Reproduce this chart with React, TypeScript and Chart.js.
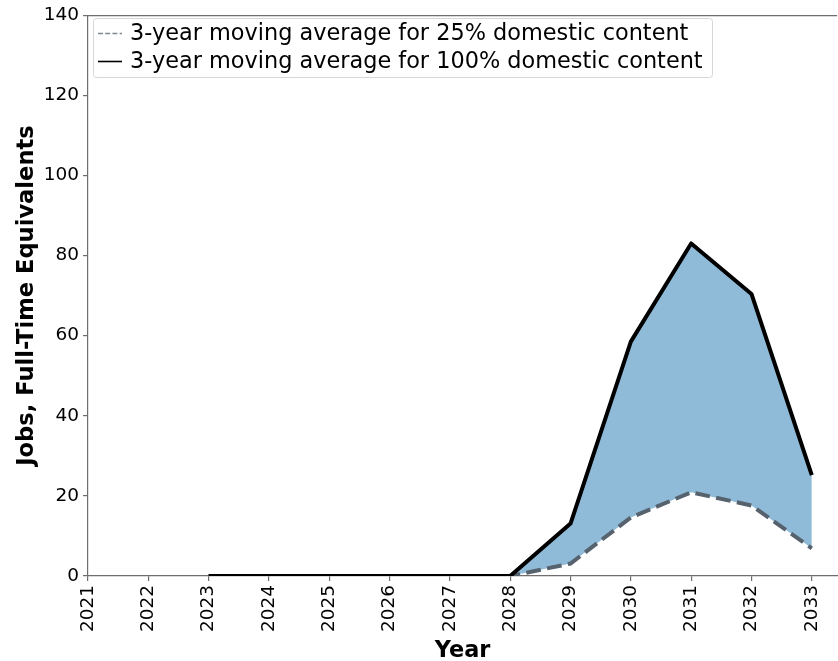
import React, { useEffect, useRef } from "react";
import { Chart, registerables } from "chart.js";

Chart.register(...registerables);

const yearTicks = [2021, 2022, 2023, 2024, 2025, 2026, 2027, 2028, 2029, 2030, 2031, 2032, 2033];
const lineYears = [2023, 2024, 2025, 2026, 2027, 2028, 2029, 2030, 2031, 2032, 2033];
const domestic100 = [0, 0, 0, 0, 0, 0, 13.1, 58.5, 83.0, 70.4, 25.2];
const domestic25 = [0, 0, 0, 0, 0, 0, 3.1, 14.6, 20.9, 17.6, 6.9];
const yTicks = [0, 20, 40, 60, 80, 100, 120, 140];
const label25 = "3-year moving average for 25% domestic content";
const label100 = "3-year moving average for 100% domestic content";
const xTitle = "Year";
const yTitle = "Jobs, Full-Time Equivalents";

const FONT = "'DejaVu Sans', sans-serif";
const FILL = "#8fbbd9";
const DASH_COLOR = "#56626d";
const AXIS_COLOR = "#6e6e6e";

const decorPlugin = {
  id: "decor",
  afterDraw(chart: any) {
    const { ctx, chartArea } = chart;
    ctx.save();
    // top spine
    ctx.strokeStyle = AXIS_COLOR;
    ctx.lineWidth = 1.2;
    ctx.beginPath();
    ctx.moveTo(chartArea.left, chartArea.top + 0.5);
    ctx.lineTo(chartArea.right, chartArea.top + 0.5);
    ctx.stroke();

    // axis titles
    ctx.fillStyle = "#000";
    ctx.font = `bold 22.4px ${FONT}`;
    ctx.textAlign = "center";
    ctx.textBaseline = "alphabetic";
    ctx.fillText(xTitle, (chartArea.left + chartArea.right) / 2, 657);
    ctx.save();
    ctx.translate(33, (chartArea.top + chartArea.bottom) / 2);
    ctx.rotate(-Math.PI / 2);
    ctx.font = `bold 22.6px ${FONT}`;
    ctx.fillText(yTitle, 0, 0);
    ctx.restore();

    // legend
    const bx = 93, by = 18, bw = 619, bh = 59;
    ctx.beginPath();
    if (ctx.roundRect) ctx.roundRect(bx + 0.5, by + 0.5, bw, bh, 3);
    else ctx.rect(bx + 0.5, by + 0.5, bw, bh);
    ctx.fillStyle = "rgba(255,255,255,0.8)";
    ctx.fill();
    ctx.strokeStyle = "#d6d6d6";
    ctx.lineWidth = 1;
    ctx.stroke();

    const rows = [
      { text: label25, color: "#7f8790", dash: [5, 2.2] },
      { text: label100, color: "#000", dash: [] as number[] },
    ];
    rows.forEach((r, i) => {
      const cy = 33 + i * 28;
      ctx.strokeStyle = r.color;
      ctx.lineWidth = 1.6;
      ctx.setLineDash(r.dash);
      ctx.beginPath();
      ctx.moveTo(98, cy + 0.5);
      ctx.lineTo(122, cy + 0.5);
      ctx.stroke();
      ctx.setLineDash([]);
      ctx.fillStyle = "#000";
      ctx.font = `22.4px ${FONT}`;
      ctx.textAlign = "left";
      ctx.textBaseline = "middle";
      ctx.fillText(r.text, 130, cy + 1);
    });
    ctx.restore();
  },
};

export default function App() {
  const ref = useRef<HTMLCanvasElement | null>(null);
  useEffect(() => {
    if (!ref.current) return;
    const chart = new Chart(ref.current, {
      type: "line",
      data: {
        datasets: [
          {
            label: label100,
            data: lineYears.map((x, i) => ({ x, y: domestic100[i] })),
            borderColor: "#000",
            borderWidth: 4,
            pointRadius: 0,
            tension: 0,
            fill: { target: 1, above: FILL, below: FILL },
            backgroundColor: FILL,
            borderJoinStyle: "round",
          },
          {
            label: label25,
            data: lineYears.map((x, i) => ({ x, y: domestic25[i] })),
            borderColor: DASH_COLOR,
            borderWidth: 4,
            borderDash: [14.8, 6.4],
            pointRadius: 0,
            tension: 0,
            fill: false,
          },
        ],
      },
      plugins: [decorPlugin],
      options: {
        responsive: false,
        animation: false,
        layout: { padding: { top: 12, right: 0, left: 0, bottom: 0 } },
        plugins: {
          legend: { display: false },
          tooltip: { enabled: false },
          filler: { drawTime: "beforeDatasetsDraw" },
        },
        scales: {
          x: {
            type: "linear",
            min: 2021,
            max: 2033.42,
            afterFit(scale: any) {
              scale.height = 85;
            },
            afterBuildTicks(scale: any) {
              scale.ticks = yearTicks.map((v) => ({ value: v }));
            },
            ticks: {
              autoSkip: false,
              minRotation: 90,
              maxRotation: 90,
              padding: 4,
              color: "#000",
              font: { family: FONT, size: 18.5 },
              callback: (v: any) => String(v),
            },
            grid: { drawOnChartArea: false, drawTicks: true, tickLength: 5, color: AXIS_COLOR, lineWidth: 1.2 },
            border: { display: true, color: AXIS_COLOR, width: 1.2 },
          },
          y: {
            type: "linear",
            min: 0,
            max: 140,
            afterFit(scale: any) {
              scale.width = 88;
            },
            afterBuildTicks(scale: any) {
              scale.ticks = yTicks.map((v) => ({ value: v }));
            },
            ticks: {
              padding: 4,
              color: "#000",
              font: { family: FONT, size: 18.5 },
              callback: (v: any) => String(v),
            },
            grid: { drawOnChartArea: false, drawTicks: true, tickLength: 5, color: AXIS_COLOR, lineWidth: 1.2 },
            border: { display: true, color: AXIS_COLOR, width: 1.2 },
          },
        },
      },
    } as any);
    return () => chart.destroy();
  }, []);
  return (
    <div style={{ position: "fixed", left: 0, top: 0, width: 838, height: 661, background: "#fff" }}>
      <canvas ref={ref} width={838} height={661} style={{ display: "block", width: 838, height: 661 }} />
    </div>
  );
}
